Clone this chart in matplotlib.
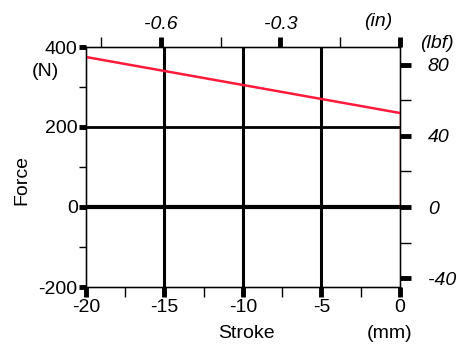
import matplotlib.pyplot as plt
import numpy as np

plt.rcParams['font.family'] = ['Liberation Sans', 'DejaVu Sans']

# data
stroke_mm = [-20, 0, 0]
force_n = [375, 235, 0]

x_major = [-20, -15, -10, -5, 0]
x_minor = [-17.5, -12.5, -7.5, -2.5]
y_major = [-200, 0, 200, 400]
y_minor = [-100, 100, 300]
in_major = [-0.6, -0.3, 0.0]
in_minor = [-0.75, -0.45, -0.15]
in_labels = ['-0.6', '-0.3', '']
lbf_major = [-40, 0, 40, 80]
lbf_minor = [-20, 20, 60]

MM_PER_IN = 25.4
N_PER_LBF = 4.44822
W, H = 457, 348
FS = 14

fig = plt.figure(figsize=(4.57, 3.48), dpi=100)
ax = fig.add_axes([86 / W, 1 - 287 / H, 314 / W, 240 / H])

ax.set_xlim(-20, 0)
ax.set_ylim(-200, 400)

# grid lines
for xv in [-15, -10, -5]:
    ax.axvline(xv, color='black', lw=2.2, zorder=1)
ax.axhline(200, color='black', lw=2.0, zorder=1)
ax.axhline(0, color='black', lw=3.0, zorder=1)

ax.plot(stroke_mm[:2], force_n[:2], color='#ff1a3c', lw=1.8, zorder=3)
ax.plot(stroke_mm[1:], force_n[1:], color='#ff1a3c', lw=1.0, zorder=3)

for s in ax.spines.values():
    s.set_linewidth(1.0)

ax.set_xticks(x_major)
ax.set_xticks(x_minor, minor=True)
ax.set_yticks(y_major)
ax.set_yticks(y_minor, minor=True)
ax.set_xticklabels(['-20', '-15', '-10', '-5', '0'])
ax.set_yticklabels(['-200', '0', '200', '400'])
ax.tick_params(axis='x', which='major', direction='out', length=7, width=3.5, labelsize=FS, pad=2)
ax.tick_params(axis='x', which='minor', direction='out', length=7, width=1)
ax.tick_params(axis='y', which='major', direction='out', length=5, width=3.5, labelsize=FS, pad=1)
ax.tick_params(axis='y', which='minor', direction='out', length=5, width=1)

# top axis: inches
axt = ax.twiny()
axt.set_xlim(-20 / MM_PER_IN, 0)
axt.set_xticks(in_major)
axt.set_xticks(in_minor, minor=True)
axt.set_xticklabels(in_labels, fontstyle='italic')
axt.tick_params(which='major', direction='out', length=7, width=3.5, labelsize=FS, pad=3)
axt.tick_params(which='minor', direction='out', length=7, width=1)

# right axis: lbf
axr = ax.twinx()
axr.set_ylim(-200 / N_PER_LBF, 400 / N_PER_LBF)
axr.set_yticks(lbf_major)
axr.set_yticks(lbf_minor, minor=True)
axr.set_yticklabels(['-40', '0', '40', '80'], fontstyle='italic')
axr.tick_params(which='major', direction='out', length=8, width=3.5, labelsize=FS, pad=12)
axr.tick_params(which='minor', direction='out', length=8, width=1)


def px_text(x, y, s, **kw):
    fig.text(x / W, 1 - y / H, s, ha='center', va='center', fontsize=FS, **kw)


px_text(22, 180, 'Force', rotation=90)
px_text(45, 71, '(N)')
px_text(246, 334, 'Stroke')
px_text(390, 334, '(mm)')
px_text(378, 22, '(in)', fontstyle='italic')
px_text(437, 44, '(lbf)', fontstyle='italic')

fig.savefig('out.png', dpi=100)
